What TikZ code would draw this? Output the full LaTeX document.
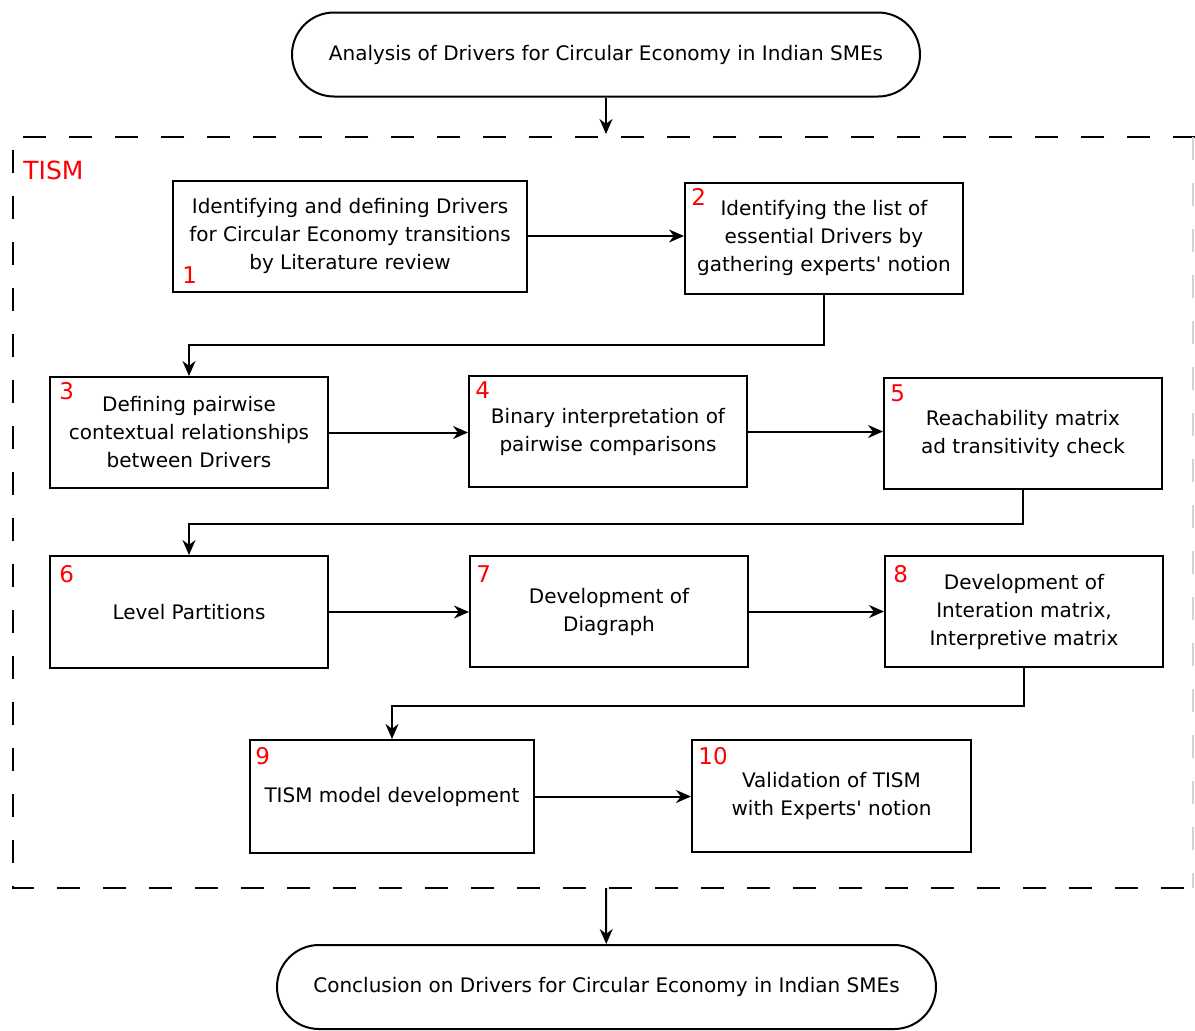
\documentclass[tikz,border=0pt]{standalone}
\usepackage{fontspec}
\setmainfont{DejaVu Sans}
\usetikzlibrary{arrows.meta}
\newcommand{\sq}{\textquotesingle}
\begin{document}
\begin{tikzpicture}[x={(0.5pt,0pt)},y={(0pt,-0.5pt)},
  box/.style={draw, line width=1pt, align=center, inner sep=0pt,
    font=\fontsize{10}{14}\selectfont, minimum width=139pt, minimum height=55.5pt},
  terminal/.style={draw, line width=1pt, rounded corners=21pt, align=center,
    font=\fontsize{10}{14}\selectfont, minimum height=42pt},
  num/.style={text=red, inner sep=0pt, font=\fontsize{11.5}{12}\selectfont},
  arr/.style={-{Stealth[length=7.5pt,width=6.5pt]}, line width=1pt},
  frame/.style={line width=1pt, dash pattern=on 11.5pt off 11.5pt}]
\useasboundingbox (0,0) rectangle (1195,1030);

% terminals
\node[terminal, minimum width=314pt] (start) at (606,54.5) {Analysis of Drivers for Circular Economy in Indian SMEs};
\node[terminal, minimum width=329.5pt] (stop) at (606.5,987) {Conclusion on Drivers for Circular Economy in Indian SMEs};

% TISM frame
\draw[frame] (1196,137) -- (13,137) -- (13,888) -- (1196,888);
\draw[frame, gray!35, line width=0.6pt] (1193,137) -- (1193,888);
\node[text=red, anchor=west, inner sep=0pt, font=\fontsize{12.5}{14}\selectfont] (tism) at (23,170) {TISM};
\coordinate (ftop) at (606,134);
\coordinate (fbot) at (606,888);

% boxes
\node[box, minimum width=177pt] (b1) at (350,236) {Identifying and defining Drivers\\for Circular Economy transitions\\by Literature review};
\node[box] (b2) at (824,238) {Identifying the list of\\essential Drivers by\\gathering experts\sq{} notion};
\node[box] (b3) at (189,432.5) {Defining pairwise\\contextual relationships\\between Drivers};
\node[box] (b4) at (608,431.5) {Binary interpretation of\\pairwise comparisons};
\node[box] (b5) at (1023,433.5) {Reachability matrix\\ad transitivity check};
\node[box, minimum height=56pt] (b6) at (189,612) {Level Partitions};
\node[box] (b7) at (609,611.5) {Development of\\Diagraph};
\node[box] (b8) at (1024,611.5) {Development of\\Interation matrix,\\Interpretive matrix};
\node[box, minimum width=142pt, minimum height=56.5pt] (b9) at (392,796.5) {TISM model development};
\node[box, minimum width=139.5pt, minimum height=56pt] (b10) at (831.5,796) {Validation of TISM\\with Experts\sq{} notion};

% numbers
\node[num, anchor=south west] (n1) at ([shift={(10,-9)}]b1.south west) {1};
\node[num, anchor=north west] (n2) at ([shift={(7,7)}]b2.north west) {2};
\node[num, anchor=north west] (n3) at ([shift={(10,6)}]b3.north west) {3};
\node[num, anchor=north west] (n4) at ([shift={(7,6)}]b4.north west) {4};
\node[num, anchor=north west] (n5) at ([shift={(7,7)}]b5.north west) {5};
\node[num, anchor=north west] (n6) at ([shift={(10,10)}]b6.north west) {6};
\node[num, anchor=north west] (n7) at ([shift={(7,10)}]b7.north west) {7};
\node[num, anchor=north west] (n8) at ([shift={(9,10)}]b8.north west) {8};
\node[num, anchor=north west] (n9) at ([shift={(6,8)}]b9.north west) {9};
\node[num, anchor=north west] (n10) at ([shift={(7,8)}]b10.north west) {10};

% connectors
\draw[arr] (start) -- (ftop);
\draw[arr] (fbot) -- (stop);
\draw[arr] (b1.east) -- (b2.west |- b1.east);
\draw[arr] (b2.south) -- ++(0,50) -| (b3.north);
\draw[arr] (b3.east) -- (b4.west |- b3.east);
\draw[arr] (b4.east) -- (b5.west |- b4.east);
\draw[arr] (b5.south) -- ++(0,34) -| (b6.north);
\draw[arr] (b6.east) -- (b7.west |- b6.east);
\draw[arr] (b7.east) -- (b8.west |- b7.east);
\draw[arr] (b8.south) -- ++(0,38) -| (b9.north);
\draw[arr] (b9.east) -- (b10.west |- b9.east);
\end{tikzpicture}
\end{document}
